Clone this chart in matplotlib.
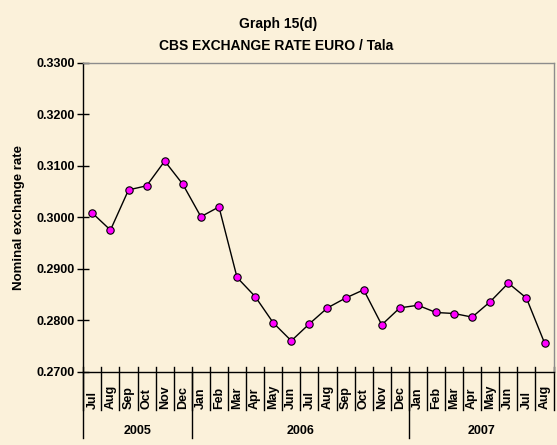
import matplotlib
matplotlib.use("Agg")
import matplotlib.pyplot as plt

months = ["Jul", "Aug", "Sep", "Oct", "Nov", "Dec",
          "Jan", "Feb", "Mar", "Apr", "May", "Jun", "Jul", "Aug", "Sep", "Oct", "Nov", "Dec",
          "Jan", "Feb", "Mar", "Apr", "May", "Jun", "Jul", "Aug"]
years = ["2005", "2006", "2007"]
year_counts = [6, 12, 8]
rates = [0.3008, 0.2975, 0.3053, 0.3061, 0.3109, 0.3064,
         0.3001, 0.3020, 0.2883, 0.2846, 0.2795, 0.2760, 0.2793, 0.2824, 0.2843, 0.2859, 0.2791, 0.2824,
         0.2829, 0.2815, 0.2813, 0.2806, 0.2836, 0.2872, 0.2843, 0.2756]
yticks = [0.27, 0.28, 0.29, 0.30, 0.31, 0.32, 0.33]

bg = "#FBF1DA"
plt.rcParams["font.family"] = ["Liberation Sans", "DejaVu Sans"]

fig = plt.figure(figsize=(5.57, 4.45), dpi=100, facecolor=bg)
ax = fig.add_axes([0.1496, 0.1647, 0.8442, 0.6944])
ax.set_facecolor(bg)

x = [i + 0.5 for i in range(len(rates))]
ax.plot(x, rates, color="black", lw=1.0, marker="o", markersize=5.3,
        markerfacecolor="#FF00FF", markeredgecolor="black", markeredgewidth=0.8,
        zorder=3)

ax.set_xlim(0, len(rates))
ax.set_ylim(0.27, 0.33)
ax.set_yticks(yticks)
ax.set_yticklabels(["%.4f" % v for v in yticks], fontsize=9, fontweight="bold")
ax.tick_params(axis="y", direction="inout", length=8, width=1, pad=2)
ax.set_xticks([])

ax.spines["left"].set_color("black")
ax.spines["bottom"].set_color("black")
ax.spines["top"].set_color("#8C8C8C")
ax.spines["right"].set_color("#8C8C8C")
for s in ax.spines.values():
    s.set_linewidth(1.0)

tr = ax.get_xaxis_transform()
# month separators and labels
for i in range(len(months) + 1):
    ax.plot([i, i], [0.015, -0.124], transform=tr, color="black", lw=1.0,
            clip_on=False)
for i, m in enumerate(months):
    ax.text(i + 0.5, -0.12, m, transform=tr, rotation=90, ha="center",
            va="bottom", fontsize=9, fontweight="bold")

# year groups
start = 0
for y, n in zip(years, year_counts):
    ax.plot([start, start], [0, -0.215], transform=tr, color="black", lw=1.0,
            clip_on=False)
    ax.text(start + n / 2, -0.192, y, transform=tr, ha="center", va="center",
            fontsize=9, fontweight="bold")
    start += n

ax.set_ylabel("Nominal exchange rate", fontsize=9.5, fontweight="bold", labelpad=8)

fig.text(0.5, 0.947, "Graph 15(d)", ha="center", va="center",
         fontsize=10, fontweight="bold")
fig.text(0.495, 0.897, "CBS EXCHANGE RATE EURO / Tala", ha="center", va="center",
         fontsize=10, fontweight="bold")

fig.savefig("out.png", dpi=100, facecolor=bg)
